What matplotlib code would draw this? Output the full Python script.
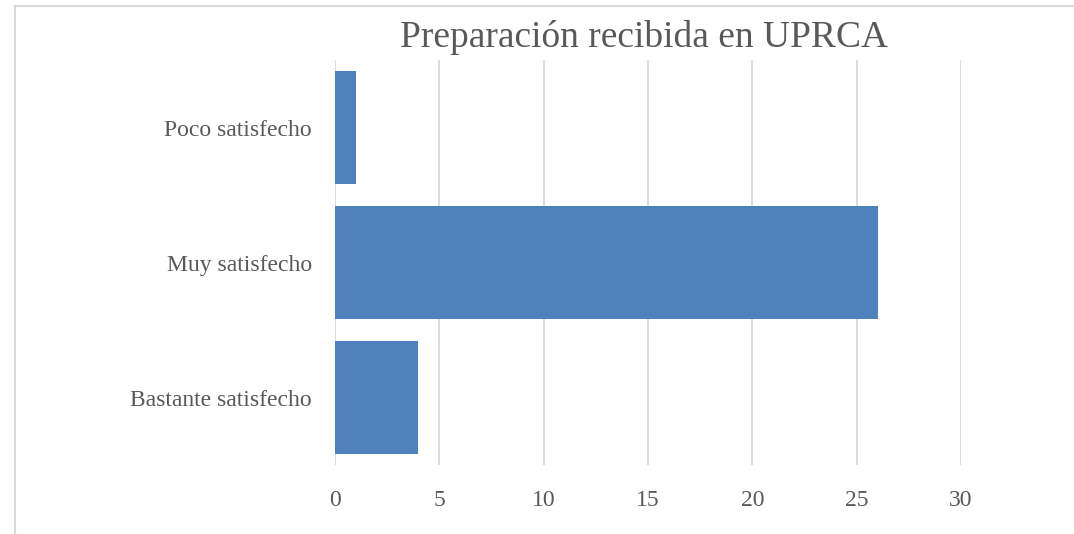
import matplotlib
matplotlib.use("Agg")
import matplotlib.pyplot as plt
from matplotlib.patches import Rectangle

# categories bottom -> top, as drawn
categories = ["Bastante satisfecho", "Muy satisfecho", "Poco satisfecho"]
counts = [4, 26, 1]
xticks = [0, 5, 10, 15, 20, 25, 30]

plt.rcParams["font.family"] = ["Liberation Serif", "DejaVu Serif"]
text_color = "#595959"

fig = plt.figure(figsize=(10.74, 5.34), dpi=100)
# light chart-area border (top and left visible)
fig.patches.append(Rectangle((15 / 1074, -0.1), 1.2, (534 - 6.5) / 534 + 0.1,
                             transform=fig.transFigure, fill=False,
                             edgecolor="#d9d9d9", linewidth=1.5))

ax = fig.add_axes([335 / 1074, (534 - 465) / 534, (961 - 335) / 1074, (465 - 60) / 534])
ax.barh(range(len(categories)), counts, height=0.83, color="#4f81bd", zorder=3)
ax.set_xlim(0, 30)
ax.set_ylim(-0.5, len(categories) - 0.5)
ax.set_xticks(xticks)
ax.set_yticks(range(len(categories)))
ax.set_yticklabels(categories)
ax.grid(axis="x", color="#d9d9d9", linewidth=1.3, zorder=0)
for s in ax.spines.values():
    s.set_visible(False)
ax.tick_params(length=0, labelsize=17, colors=text_color)
ax.tick_params(axis="y", pad=16.5)
ax.tick_params(axis="x", pad=18)

fig.text(0.5 * (395 + 893) / 1074, (534 - 47) / 534, "Preparación recibida en UPRCA",
         ha="center", va="baseline", fontsize=27, color=text_color)

fig.savefig("out.png", dpi=100)
